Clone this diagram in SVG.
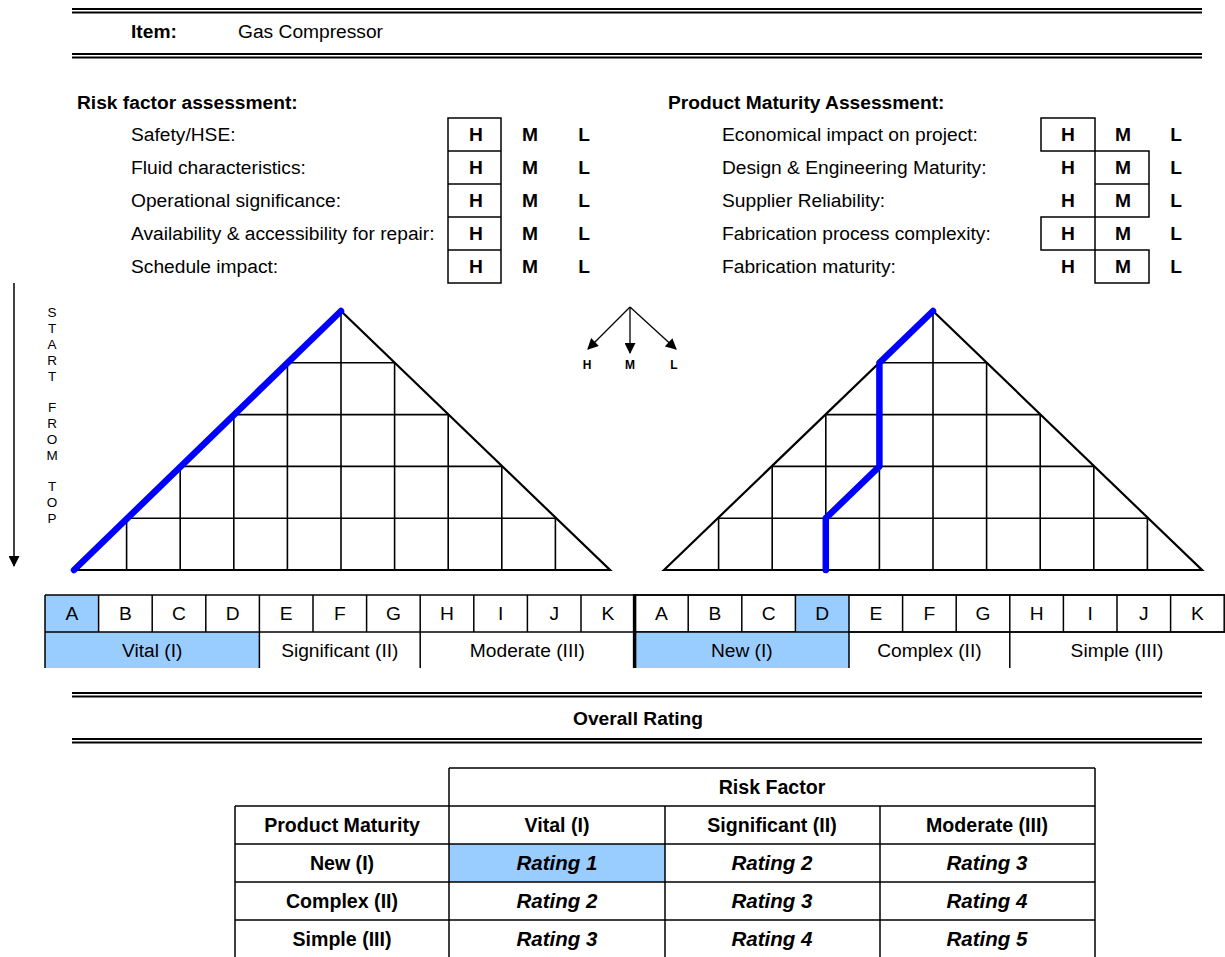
<svg xmlns="http://www.w3.org/2000/svg" width="1225" height="957" viewBox="0 0 1225 957">
<style>
text{font-family:"Liberation Sans",Arial,sans-serif;fill:#000}
.t{font-size:19.2px}
.b{font-size:19.2px;font-weight:bold}
.c{text-anchor:middle}
.tb{font-size:19.6px;font-weight:bold;text-anchor:middle}
.bi{font-size:20.5px;font-weight:bold;font-style:italic;text-anchor:middle}
.dl{stroke:#000;stroke-width:1.8;fill:none}
.bx{stroke:#000;stroke-width:1.5;fill:none}
.grid{stroke:#000;stroke-width:1.6;fill:none}
.tri{stroke:#000;stroke-width:2.2;fill:none;stroke-linejoin:miter}
.path{stroke:#0000FF;stroke-width:6.5;fill:none;stroke-linejoin:round;stroke-linecap:round}
.hl{fill:#99CCFF}
.sm{font-size:12px;font-weight:bold;text-anchor:middle}
.vt{font-size:13.5px;text-anchor:middle}
.cell{stroke:#000;stroke-width:1.5;fill:none}
</style>
<defs>
<marker id="ah" viewBox="0 0 10 10" refX="9" refY="5" markerWidth="12" markerHeight="11" orient="auto" markerUnits="userSpaceOnUse">
<path d="M0,0 L10,5 L0,10 z" fill="#000"/>
</marker>
<marker id="ah2" viewBox="0 0 10 10" refX="9" refY="5" markerWidth="13" markerHeight="11" orient="auto" markerUnits="userSpaceOnUse">
<path d="M0,0 L10,5 L0,10 z" fill="#000"/>
</marker>
</defs>

<g id="header">
<line class="dl" x1="72" y1="9" x2="1202" y2="9"/>
<line class="dl" x1="72" y1="12.5" x2="1202" y2="12.5"/>
<text class="b" x="131" y="38">Item:</text>
<text class="t" x="238" y="38">Gas Compressor</text>
<line class="dl" x1="72" y1="54" x2="1202" y2="54"/>
<line class="dl" x1="72" y1="57.5" x2="1202" y2="57.5"/>
</g>

<g id="risk-assessment">
<text class="b" x="77" y="109">Risk factor assessment:</text>
<text class="t" x="131" y="141">Safety/HSE:</text>
<text class="t" x="131" y="174">Fluid characteristics:</text>
<text class="t" x="131" y="207">Operational significance:</text>
<text class="t" x="131" y="240">Availability &amp; accessibility for repair:</text>
<text class="t" x="131" y="273">Schedule impact:</text>
<rect class="bx" x="448" y="118" width="53" height="165"/>
<line class="bx" x1="448" y1="151" x2="501" y2="151"/>
<line class="bx" x1="448" y1="184" x2="501" y2="184"/>
<line class="bx" x1="448" y1="217" x2="501" y2="217"/>
<line class="bx" x1="448" y1="250" x2="501" y2="250"/>
<g class="b c">
<text x="476" y="141">H</text><text x="530" y="141">M</text><text x="584" y="141">L</text>
<text x="476" y="174">H</text><text x="530" y="174">M</text><text x="584" y="174">L</text>
<text x="476" y="207">H</text><text x="530" y="207">M</text><text x="584" y="207">L</text>
<text x="476" y="240">H</text><text x="530" y="240">M</text><text x="584" y="240">L</text>
<text x="476" y="273">H</text><text x="530" y="273">M</text><text x="584" y="273">L</text>
</g>
</g>

<g id="maturity-assessment">
<text class="b" x="668" y="109">Product Maturity Assessment:</text>
<text class="t" x="722" y="141">Economical impact on project:</text>
<text class="t" x="722" y="174">Design &amp; Engineering Maturity:</text>
<text class="t" x="722" y="207">Supplier Reliability:</text>
<text class="t" x="722" y="240">Fabrication process complexity:</text>
<text class="t" x="722" y="273">Fabrication maturity:</text>
<rect class="bx" x="1041" y="118" width="54" height="33"/>
<rect class="bx" x="1095" y="151" width="54" height="66"/>
<line class="bx" x1="1095" y1="184" x2="1149" y2="184"/>
<rect class="bx" x="1041" y="217" width="54" height="33"/>
<rect class="bx" x="1095" y="250" width="54" height="33"/>
<g class="b c">
<text x="1068" y="141">H</text><text x="1123" y="141">M</text><text x="1176" y="141">L</text>
<text x="1068" y="174">H</text><text x="1123" y="174">M</text><text x="1176" y="174">L</text>
<text x="1068" y="207">H</text><text x="1123" y="207">M</text><text x="1176" y="207">L</text>
<text x="1068" y="240">H</text><text x="1123" y="240">M</text><text x="1176" y="240">L</text>
<text x="1068" y="273">H</text><text x="1123" y="273">M</text><text x="1176" y="273">L</text>
</g>
</g>

<g id="start-arrow">
<line x1="14" y1="283" x2="14" y2="566" stroke="#000" stroke-width="1.5" marker-end="url(#ah2)"/>
<g class="vt">
<text x="52" y="317">S</text><text x="52" y="333">T</text><text x="52" y="349">A</text><text x="52" y="365">R</text><text x="52" y="381">T</text>
<text x="52" y="412">F</text><text x="52" y="428">R</text><text x="52" y="444">O</text><text x="52" y="460">M</text>
<text x="52" y="491">T</text><text x="52" y="507">O</text><text x="52" y="523">P</text>
</g>
</g>

<g id="hml-legend">
<line x1="630" y1="307" x2="588" y2="349" stroke="#000" stroke-width="1.3" marker-end="url(#ah)"/>
<line x1="630" y1="307" x2="630" y2="353" stroke="#000" stroke-width="1.3" marker-end="url(#ah)"/>
<line x1="630" y1="307" x2="676" y2="349" stroke="#000" stroke-width="1.3" marker-end="url(#ah)"/>
<text class="sm" x="587" y="369">H</text>
<text class="sm" x="630" y="369">M</text>
<text class="sm" x="674" y="369">L</text>
</g>

<g id="risk-triangle">
<path class="grid" d="M287.4,362.8H394.6M233.8,414.6H448.2M180.2,466.4H501.8M126.6,518.2H555.4
M341,311V570M287.4,362.8V570M394.6,362.8V570M233.8,414.6V570M448.2,414.6V570M180.2,466.4V570M501.8,466.4V570M126.6,518.2V570M555.4,518.2V570"/>
<path class="tri" d="M74,570L341,311L610,570Z"/>
<path class="path" d="M341,311L74,570"/>
</g>

<g id="maturity-triangle">
<path class="grid" d="M879.4,362.8H986.6M825.8,414.6H1040.2M772.2,466.4H1093.8M718.6,518.2H1147.4
M933,311V570M879.4,362.8V570M986.6,362.8V570M825.8,414.6V570M1040.2,414.6V570M772.2,466.4V570M1093.8,466.4V570M718.6,518.2V570M1147.4,518.2V570"/>
<path class="tri" d="M664,570L933,311L1202,570Z"/>
<path class="path" d="M933,311L879.4,362.8L879.4,466.4L825.8,518.2L825.8,570"/>
</g>

<g id="risk-scale">
<rect class="hl" x="45" y="595" width="53.6" height="37"/>
<rect class="hl" x="45" y="632" width="214.4" height="36"/>
<line class="cell" x1="45" y1="595" x2="1225" y2="595"/>
<line class="cell" x1="45" y1="632" x2="1225" y2="632"/>
<path class="cell" d="M45,595V668M98.6,595V632M152.2,595V632M205.8,595V632M259.4,595V668M313,595V632M366.6,595V632M420.2,595V668M473.8,595V632M527.4,595V632M581,595V632"/>
<g class="t c">
<text x="71.8" y="620">A</text><text x="125.4" y="620">B</text><text x="179" y="620">C</text><text x="232.6" y="620">D</text>
<text x="286.2" y="620">E</text><text x="339.8" y="620">F</text><text x="393.4" y="620">G</text><text x="447" y="620">H</text>
<text x="500.6" y="620">I</text><text x="554.2" y="620">J</text><text x="607.8" y="620">K</text>
<text x="152.2" y="657">Vital (I)</text>
<text x="339.8" y="657">Significant (II)</text>
<text x="527.4" y="657">Moderate (III)</text>
</g>
</g>

<g id="maturity-scale">
<rect class="hl" x="795.4" y="595" width="53.6" height="37"/>
<rect class="hl" x="634.6" y="632" width="214.4" height="36"/>
<line class="cell" x1="634.6" y1="595" x2="1225" y2="595"/>
<line class="cell" x1="634.6" y1="632" x2="1225" y2="632"/>
<line x1="634.6" y1="594" x2="634.6" y2="668" stroke="#000" stroke-width="3.5"/>
<path class="cell" d="M688.2,595V632M741.8,595V632M795.4,595V632M849,595V668M902.6,595V632M956.2,595V632M1009.8,595V668M1063.4,595V632M1117,595V632M1170.6,595V632M1224.2,595V632"/>
<g class="t c">
<text x="661.4" y="620">A</text><text x="715" y="620">B</text><text x="768.6" y="620">C</text><text x="822.2" y="620">D</text>
<text x="875.8" y="620">E</text><text x="929.4" y="620">F</text><text x="983" y="620">G</text><text x="1036.6" y="620">H</text>
<text x="1090.2" y="620">I</text><text x="1143.8" y="620">J</text><text x="1197.4" y="620">K</text>
<text x="741.8" y="657">New (I)</text>
<text x="929.4" y="657">Complex (II)</text>
<text x="1117" y="657">Simple (III)</text>
</g>
</g>

<g id="overall-rating-header">
<line class="dl" x1="72" y1="693" x2="1202" y2="693"/>
<line class="dl" x1="72" y1="696.5" x2="1202" y2="696.5"/>
<text class="b c" x="638" y="725">Overall Rating</text>
<line class="dl" x1="72" y1="739" x2="1202" y2="739"/>
<line class="dl" x1="72" y1="742.5" x2="1202" y2="742.5"/>
</g>

<g id="rating-table">
<rect class="hl" x="449" y="844" width="216" height="38"/>
<path class="cell" d="M449,768H1095M235,806H1095M235,844H1095M235,882H1095M235,920H1095
M449,768V958M1095,768V958M235,806V958M665,806V958M880,806V958"/>
<g class="tb">
<text x="772" y="794">Risk Factor</text>
<text x="342" y="832">Product Maturity</text>
<text x="557" y="832">Vital (I)</text>
<text x="772" y="832">Significant (II)</text>
<text x="987" y="832">Moderate (III)</text>
<text x="342" y="870">New (I)</text>
<text x="342" y="908">Complex (II)</text>
<text x="342" y="946">Simple (III)</text>
</g>
<text class="bi" x="557" y="870">Rating 1</text>
<text class="bi" x="772" y="870">Rating 2</text>
<text class="bi" x="987" y="870">Rating 3</text>
<text class="bi" x="557" y="908">Rating 2</text>
<text class="bi" x="772" y="908">Rating 3</text>
<text class="bi" x="987" y="908">Rating 4</text>
<text class="bi" x="557" y="946">Rating 3</text>
<text class="bi" x="772" y="946">Rating 4</text>
<text class="bi" x="987" y="946">Rating 5</text>
</g>
</svg>
